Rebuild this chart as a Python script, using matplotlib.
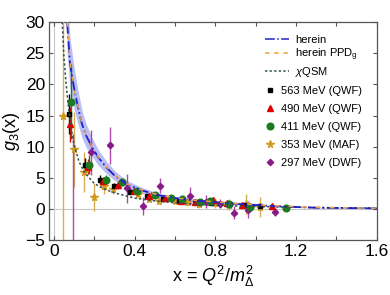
import numpy as np
import matplotlib.pyplot as plt
from matplotlib.lines import Line2D

plt.rcParams['font.family'] = 'Liberation Sans'
plt.rcParams['mathtext.fontset'] = 'custom'
plt.rcParams['mathtext.rm'] = 'Liberation Sans'
plt.rcParams['mathtext.it'] = 'Liberation Sans:italic'

# curves
x_herein = [0.066, 0.08, 0.10, 0.12, 0.14, 0.16, 0.19, 0.22, 0.26, 0.30, 0.36,
            0.44, 0.52, 0.60, 0.70, 0.80, 0.94, 1.10, 1.30, 1.60]
y_herein = [30.0, 23.5, 19.5, 16.3, 13.6, 11.8, 9.9, 8.3, 6.7, 5.4, 4.0,
            2.95, 2.2, 1.75, 1.35, 1.1, 0.75, 0.45, 0.2, 0.1]
band_half = [5.0, 4.0, 3.4, 2.7, 2.2, 1.9, 1.5, 1.25, 1.0, 0.8, 0.6,
             0.45, 0.35, 0.28, 0.2, 0.16, 0.12, 0.08, 0.05, 0.03]
x_ppd = [0.067, 0.08, 0.10, 0.12, 0.14, 0.16, 0.19, 0.22, 0.26, 0.30, 0.36,
         0.44, 0.52, 0.60, 0.70, 0.80, 0.94, 1.10, 1.30, 1.60]
y_ppd = [30.0, 23.7, 19.6, 16.4, 13.7, 11.9, 10.0, 8.4, 6.8, 5.5, 4.05,
         3.0, 2.25, 1.8, 1.4, 1.15, 0.8, 0.5, 0.25, 0.12]
x_qsm = [0.042, 0.05, 0.06, 0.07, 0.08, 0.09, 0.10, 0.125, 0.15, 0.20, 0.25, 0.30,
         0.40, 0.50, 0.60, 0.70, 0.80, 0.90, 1.00, 1.20, 1.40, 1.60]
y_qsm = [30.0, 24.5, 20.5, 17.2, 14.4, 12.2, 10.4, 7.6, 6.0, 4.1, 3.2, 2.6,
         1.75, 1.3, 1.0, 0.8, 0.62, 0.5, 0.4, 0.28, 0.2, 0.15]

# lattice data
x_563 = [0.076, 0.153, 0.228, 0.30, 0.378, 0.46, 0.54, 0.62, 0.70, 0.78, 0.86, 0.94, 1.02]
y_563 = [15.2, 7.0, 4.7, 3.7, 2.8, 2.1, 1.6, 1.3, 1.1, 0.9, 0.75, 0.6, 0.5]
e_563 = [3.2, 1.2, 0.7, 0.5, 0.4, 0.3, 0.3, 0.25, 0.2, 0.2, 0.2, 0.2, 0.2]

x_490 = [0.079, 0.168, 0.245, 0.32, 0.398, 0.47, 0.55, 0.63, 0.70, 0.79, 0.86, 0.93, 1.08]
y_490 = [13.6, 6.8, 4.5, 3.85, 2.9, 2.1, 1.7, 1.3, 1.15, 1.5, 0.9, 0.7, 0.4]
e_490 = [2.8, 1.2, 0.7, 0.6, 0.5, 0.4, 0.4, 0.3, 0.3, 0.4, 0.3, 0.3, 0.3]

x_411 = [0.087, 0.173, 0.26, 0.337, 0.41, 0.50, 0.58, 0.634, 0.725, 0.774, 0.87, 0.972, 1.15]
y_411 = [17.2, 7.1, 4.7, 4.3, 2.9, 2.2, 1.7, 1.6, 1.07, 1.3, 0.8, 0.3, 0.15]
e_411 = [6.0, 1.5, 0.8, 0.6, 0.5, 0.4, 0.3, 0.3, 0.3, 0.3, 0.3, 0.3, 0.3]

x_353 = [0.046, 0.10, 0.150, 0.198, 0.249, 0.294, 0.416, 0.47, 0.523, 0.60, 0.66,
         0.72, 0.80, 0.87, 0.95, 1.02]
y_353 = [15.0, 9.6, 5.9, 1.9, 3.7, 3.2, 2.4, 1.6, 1.33, 1.3, 1.1, 0.8, 0.9, 0.7, 0.8, 0.3]
e_353 = [45.0, 6.0, 3.2, 2.2, 1.3, 0.8, 0.6, 0.5, 0.5, 0.5, 0.6, 0.7, 0.8, 0.9, 1.6, 1.6]

x_297 = [0.096, 0.186, 0.277, 0.365, 0.444, 0.527, 0.676, 0.752, 0.822, 0.892, 0.962, 1.096]
y_297 = [-6.0, 9.1, 10.2, 3.3, 0.5, 3.75, 2.1, 1.2, 0.85, -0.6, -0.1, -0.55]
e_297 = [18.0, 3.6, 2.9, 2.3, 1.4, 1.2, 1.4, 1.0, 0.7, 1.0, 1.4, 0.6]

fig = plt.figure(figsize=(3.9, 2.95), dpi=100)
ax = fig.add_axes([0.126, 0.186, 0.840, 0.739])

ax.axhline(0, color='#c8c8c8', lw=0.8, zorder=0)
ax.axvline(0, color='#c8c8c8', lw=0.8, zorder=0)

# data sets with error bars
sets = [
    (x_353, y_353, e_353, '*', '#d29a1c', '#d8ac55', 5.5),
    (x_297, y_297, e_297, 'D', '#8a1a8a', '#b048b0', 3.2),
    (x_563, y_563, e_563, 's', 'black', 'black', 3.5),
    (x_490, y_490, e_490, '^', '#e00000', '#e00000', 4.0),
    (x_411, y_411, e_411, 'o', '#1e7a1e', '#1e7a1e', 4.8),
]
for xs, ys, es, m, c, ec, ms in sets:
    ax.errorbar(xs, ys, yerr=es, fmt=m, color=c, ecolor=ec, ms=ms,
                elinewidth=1.0, capsize=0, zorder=3)

# model curves
lo = np.array(y_herein) - np.array(band_half)
hi = np.array(y_herein) + np.array(band_half)
ax.fill_between(x_herein, lo, hi, color='#a8b0f4', alpha=0.8, lw=0, zorder=2)
ax.plot(x_qsm, y_qsm, color='#2f4f4f', ls=(0, (1.5, 1.5)), lw=1.1, zorder=4)
ax.plot(x_herein, y_herein, color='#2020c8', ls='-.', lw=1.3, zorder=5)
ax.plot(x_ppd, y_ppd, color='#f5a040', ls=(0, (3, 6)), lw=1.1, zorder=6)

ax.set_xlim(-0.023, 1.6)
ax.set_ylim(-5, 30)
ax.set_xticks([0, 0.4, 0.8, 1.2, 1.6])
ax.set_xticklabels(['0', '0.4', '0.8', '1.2', '1.6'])
ax.set_xticks([0.2, 0.6, 1.0, 1.4], minor=True)
ax.set_yticks([-5, 0, 5, 10, 15, 20, 25, 30])
ax.set_yticklabels(['\u22125', '0', '5', '10', '15', '20', '25', '30'])
ax.tick_params(which='both', direction='in', top=True, right=True,
               length=3, width=0.8, labelsize=12.5, pad=3, color='#555555')
for s in ax.spines.values():
    s.set_color('#555555')
    s.set_linewidth(0.9)

ax.set_xlabel(r'x = $Q^2/m_\Delta^2$', fontsize=13, labelpad=3)
ax.set_ylabel(r'$g_3$(x)', fontsize=13, labelpad=2)

# legends: lines and markers are aligned differently
line_h = [Line2D([], [], color='#2020c8', ls='-.', lw=1.1),
          Line2D([], [], color='#f5a040', ls=(0, (3, 3)), lw=1.1),
          Line2D([], [], color='#2f4f4f', ls=(0, (1.5, 1.5)), lw=1.1)]
leg1 = ax.legend(line_h, ['herein', r'herein PPD$_\mathrm{g}$', r'$\chi$QSM'],
                 loc='upper left', bbox_to_anchor=(0.659, 0.941), frameon=False,
                 fontsize=8, handlelength=2.2, handletextpad=0.5,
                 labelspacing=0.15, borderpad=0, borderaxespad=0)
ax.add_artist(leg1)

mark_h = [Line2D([], [], marker='s', color='black', ls='', ms=3.5),
          Line2D([], [], marker='^', color='#e00000', ls='', ms=4),
          Line2D([], [], marker='o', color='#1e7a1e', ls='', ms=4.8),
          Line2D([], [], marker='*', color='#d29a1c', ls='', ms=5.5),
          Line2D([], [], marker='D', color='#8a1a8a', ls='', ms=3.2)]
ax.legend(mark_h, ['563 MeV (QWF)', '490 MeV (QWF)', '411 MeV (QWF)',
                   '353 MeV (MAF)', '297 MeV (DWF)'],
          loc='upper left', bbox_to_anchor=(0.659, 0.707), frameon=False,
          fontsize=8, handlelength=0.9, handletextpad=0.5,
          labelspacing=0.71, borderpad=0, borderaxespad=0)

fig.savefig('out.png', dpi=100)
